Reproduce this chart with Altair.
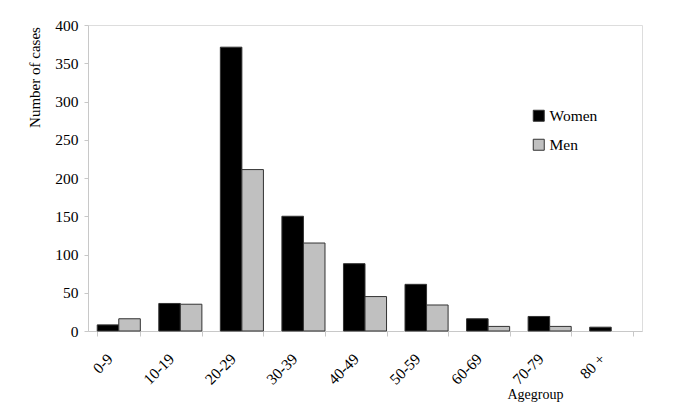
import altair as alt
import pandas as pd

categories = ["0-9", "10-19", "20-29", "30-39", "40-49", "50-59", "60-69", "70-79", "80 +"]
women = [8, 36, 371, 150, 88, 61, 16, 19, 5]
men = [16, 35, 211, 115, 45, 34, 6, 6, 0]
series = ["Women", "Men"]
colors = ["#000000", "#c0c0c0"]

rows = []
for i, c in enumerate(categories):
    rows.append({"age": c, "sex": "Women", "value": women[i]})
    rows.append({"age": c, "sex": "Men", "value": men[i]})
df = pd.DataFrame(rows)

FONT = "Times New Roman"

chart = alt.Chart(df).mark_bar(strokeWidth=1).encode(
    x=alt.X("age:N", sort=categories,
            scale=alt.Scale(paddingInner=0.3, paddingOuter=0.15),
            axis=alt.Axis(title="Agegroup", labelAngle=-45, labelFontSize=15.5,
                          labelFont=FONT,
                          tickBand="extent", tickSize=5,
                          labelPadding=15, labelOffset=-14,
                          titleFontSize=14, titleX=447, titleY=63,
                          titleAlign="center", titleBaseline="middle")),
    xOffset=alt.XOffset("sex:N", sort=series, scale=alt.Scale(paddingInner=0, paddingOuter=0)),
    y=alt.Y("value:Q", scale=alt.Scale(domain=[0, 400]),
            axis=alt.Axis(title="Number of cases", values=list(range(0, 401, 50)),
                          labelFont=FONT,
                          grid=False, labelFontSize=15.5, tickSize=4, labelPadding=6,
                          titleFontSize=15, titleX=-54, titleY=52,
                          titleAngle=-90, titleAlign="center", titleBaseline="middle")),
    color=alt.Color("sex:N", sort=series,
                    scale=alt.Scale(domain=series, range=colors),
                    legend=alt.Legend(title=None, orient="none", legendX=443, legendY=83,
                                      padding=0, labelFontSize=15.5,
                                      symbolType="square",
                                      symbolSize=121, symbolStrokeColor="#333333",
                                      symbolStrokeWidth=1, rowPadding=12, labelOffset=3)),
    stroke=alt.condition(alt.datum.value > 0, alt.value("#333333"), alt.value("transparent")),
).properties(
    width=554, height=306,
    autosize=alt.AutoSizeParams(type="none"),
    padding={"left": 80, "top": 17, "right": 35, "bottom": 81},
).configure_view(stroke=None).configure(
    background="white", font=FONT
).configure_axis(
    labelFont=FONT, titleFont=FONT, labelColor="#000000", titleColor="#000000",
    titleFontWeight="normal", tickColor="#c8c8c8", domainColor="#c8c8c8"
).configure_legend(labelFont=FONT, labelColor="#000000")

chart.save("out.html", embed_options={"renderer": "svg", "actions": False})
